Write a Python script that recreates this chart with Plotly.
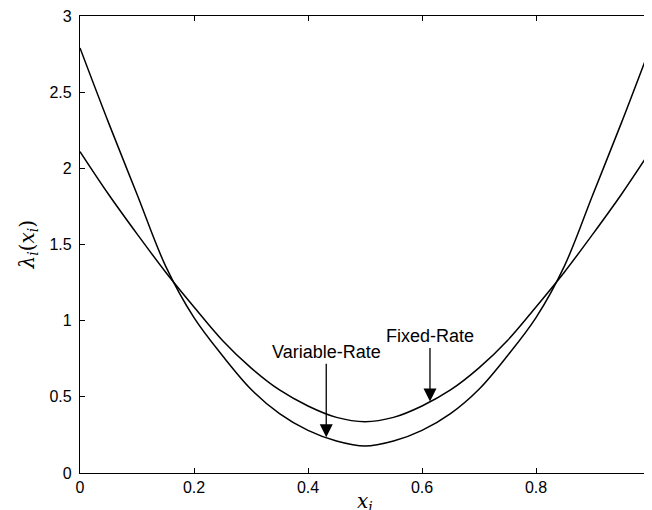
import plotly.graph_objects as go
import numpy as np

# ---- data ----
x_vals = [0.0, 0.05, 0.10, 0.15, 0.20, 0.25, 0.30, 0.35, 0.40, 0.45, 0.50,
          0.55, 0.60, 0.65, 0.70, 0.75, 0.80, 0.85, 0.90, 0.95, 1.0]
fixed_rate = [2.11, 1.83, 1.57, 1.32, 1.09, 0.87, 0.69, 0.545, 0.44, 0.365, 0.337,
              0.365, 0.44, 0.545, 0.69, 0.87, 1.09, 1.32, 1.57, 1.83, 2.11]
variable_rate = [2.79, 2.30, 1.83, 1.36, 1.02, 0.77, 0.55, 0.39, 0.28, 0.21, 0.177,
                 0.21, 0.28, 0.39, 0.55, 0.77, 1.02, 1.36, 1.83, 2.30, 2.79]

x_ticks = [0, 0.2, 0.4, 0.6, 0.8, 1]
x_tick_labels = ["0", "0.2", "0.4", "0.6", "0.8", "1"]
y_ticks = [0, 0.5, 1, 1.5, 2, 2.5, 3]
y_tick_labels = ["0", "0.5", "1", "1.5", "2", "2.5", "3"]

x_title = "<i>x<sub>i</sub></i>"
y_title = "<i>λ<sub>i</sub></i>(<i>x<sub>i</sub></i>)"
label_variable = "Variable-Rate"
label_fixed = "Fixed-Rate"
arrow_x_variable = 0.432
arrow_x_fixed = 0.614

fig = go.Figure()
fig.add_trace(go.Scatter(x=x_vals, y=fixed_rate, mode="lines", line_shape="spline",
                         line=dict(color="black", width=1.5), name=label_fixed,
                         showlegend=False))
fig.add_trace(go.Scatter(x=x_vals, y=variable_rate, mode="lines", line_shape="spline",
                         line=dict(color="black", width=1.5), name=label_variable,
                         showlegend=False))

sans = "Liberation Sans, Arial, sans-serif"
serif_font = dict(family="DejaVu Serif, serif", size=20, color="black")
tick_font = dict(family=sans, size=16, color="black")
ann_font = dict(family=sans, size=18, color="black")

fig.add_annotation(x=arrow_x_variable, y=float(np.interp(arrow_x_variable, x_vals, variable_rate)),
                   xref="x", yref="y", text=label_variable, showarrow=True,
                   arrowhead=2, arrowsize=2, arrowwidth=1.3, arrowcolor="black",
                   ax=0, ay=-85, font=ann_font)
fig.add_annotation(x=arrow_x_fixed, y=float(np.interp(arrow_x_fixed, x_vals, fixed_rate)),
                   xref="x", yref="y", text=label_fixed, showarrow=True,
                   arrowhead=2, arrowsize=2, arrowwidth=1.3, arrowcolor="black",
                   ax=0, ay=-65, font=ann_font)

# axis titles as annotations for exact placement
fig.add_annotation(x=0.5, y=0, xref="paper", yref="paper", text=x_title, showarrow=False,
                   xanchor="center", yanchor="middle", yshift=-29, font=serif_font)
fig.add_annotation(x=0, y=0.5, xref="paper", yref="paper", text=y_title, showarrow=False,
                   xanchor="center", yanchor="middle", xshift=-53, textangle=-90,
                   font=serif_font)

fig.update_xaxes(range=[0, 1], tickvals=x_ticks, ticktext=x_tick_labels,
                 showline=True, linecolor="black", linewidth=1.2, mirror="ticks",
                 ticks="inside", ticklen=5, tickcolor="black", tickwidth=1,
                 showgrid=False, zeroline=False, tickfont=tick_font,
                 ticklabeloverflow="allow", automargin=False)
fig.update_yaxes(range=[0, 3], tickvals=y_ticks, ticktext=y_tick_labels,
                 showline=True, linecolor="black", linewidth=1.2, mirror="ticks",
                 ticks="inside", ticklen=5, tickcolor="black", tickwidth=1,
                 showgrid=False, zeroline=False, tickfont=tick_font,
                 ticklabelstandoff=4, ticklabeloverflow="allow", automargin=False)

# page body has an 8px margin, so the figure is sized/offset to fill the 652x510 window
fig.update_layout(width=644, height=502, margin=dict(l=72, r=2, t=8, b=37),
                  plot_bgcolor="white", paper_bgcolor="white")

fig.write_html("out.html")
